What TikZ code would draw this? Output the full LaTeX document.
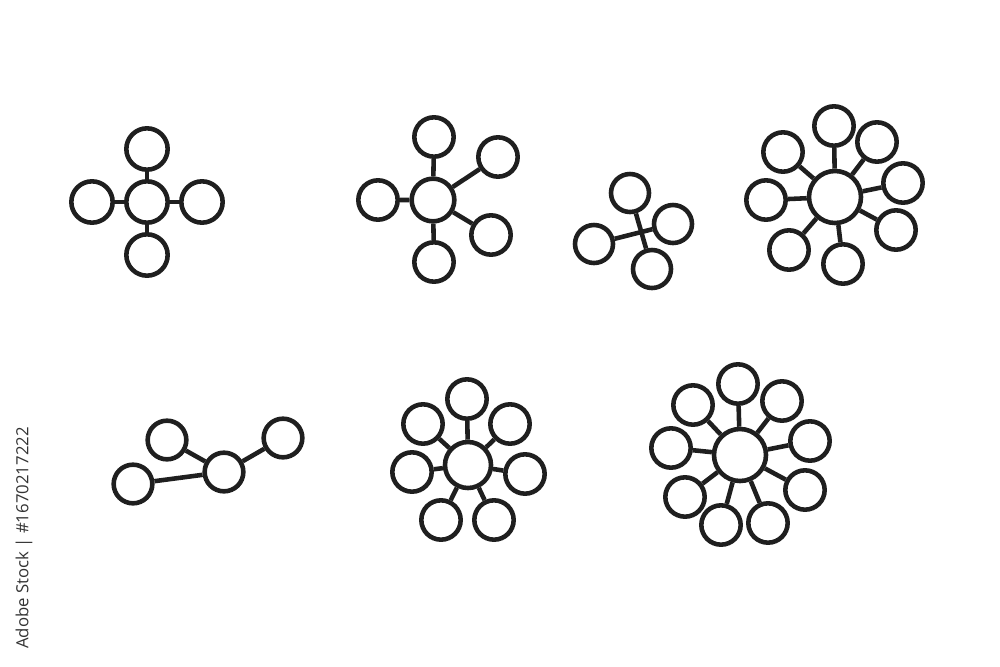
\documentclass[tikz,border=0pt]{standalone}
\usepackage{fontspec}
\newfontfamily\idfont{Open Sans}
\usetikzlibrary{positioning}

\tikzset{
  leaf/.style={circle,draw,line width=3.9pt,minimum size=#1,inner sep=0pt},
  leaf/.default=1.18cm,
  link/.style={line width=3.9pt},
}

\begin{document}
\begin{tikzpicture}[x=0.03cm,y=-0.03cm,color={black!88}]
  \useasboundingbox (0,0) rectangle (1000,667);
  % cross
  \node[leaf=1.24cm] (crossc) at (147,202) {};
  \node[leaf=1.24cm] (crosst) at (147,149) {};
  \node[leaf=1.24cm] (crossb) at (147,255) {};
  \node[leaf=1.24cm] (crossl) at (92,202) {};
  \node[leaf=1.24cm] (crossr) at (202,202) {};
  \draw[link] (crosst) -- (crossc) -- (crossb);
  \draw[link] (crossl) -- (crossc) -- (crossr);
  % five arms
  \node[leaf=1.28cm] (fivec) at (433,200) {};
  \node[leaf] (fivet) at (434,137) {};
  \node[leaf] (fiveur) at (498,157) {};
  \node[leaf] (fivel) at (378,200) {};
  \node[leaf] (fivelr) at (491,235) {};
  \node[leaf] (fiveb) at (434,262) {};
  \draw[link] (fivet) -- (fivec) -- (fiveb);
  \draw[link] (fivel) -- (fivec) -- (fiveur);
  \draw[link] (fivec) -- (fivelr);
  % crossing pairs
  \node[leaf=1.14cm] (pairt) at (630,193) {};
  \node[leaf=1.14cm] (pairr) at (673,224) {};
  \node[leaf=1.14cm] (pairl) at (594,244) {};
  \node[leaf=1.14cm] (pairb) at (652,269) {};
  \draw[link] (pairt) -- (pairb);
  \draw[link] (pairl) -- (pairr);
  % eight arms
  \node[leaf=1.56cm] (eightc) at (835,197) {};
  \node[leaf] (eightt) at (834,126) {};
  \node[leaf] (eightur) at (877,142) {};
  \node[leaf] (eightr) at (903,183) {};
  \node[leaf] (eightlr) at (896,230) {};
  \node[leaf] (eightb) at (843,264) {};
  \node[leaf] (eightll) at (789,250) {};
  \node[leaf] (eightl) at (766,200) {};
  \node[leaf] (eightul) at (783,152) {};
  \draw[link] (eightt) -- (eightc) -- (eightb);
  \draw[link] (eightl) -- (eightc) -- (eightr);
  \draw[link] (eightul) -- (eightc) -- (eightlr);
  \draw[link] (eightll) -- (eightc) -- (eightur);
  % chain
  \node[leaf=1.16cm] (chainc) at (224,472) {};
  \node[leaf=1.16cm] (chainu) at (167,440) {};
  \node[leaf=1.16cm] (chainr) at (283,438) {};
  \node[leaf=1.16cm] (chainl) at (133,484) {};
  \draw[link] (chainu) -- (chainc) -- (chainr);
  \draw[link] (chainl) -- (chainc);
  % seven arms
  \node[leaf=1.38cm] (sevenc) at (468,465) {};
  \node[leaf] (sevent) at (467,399) {};
  \node[leaf] (sevenur) at (510,424) {};
  \node[leaf] (sevenr) at (525,474) {};
  \node[leaf] (sevenlr) at (494,520) {};
  \node[leaf] (sevenll) at (441,520) {};
  \node[leaf] (sevenl) at (412,472) {};
  \node[leaf] (sevenul) at (423,424) {};
  \draw[link] (sevent) -- (sevenc) -- (sevenlr);
  \draw[link] (sevenl) -- (sevenc) -- (sevenr);
  \draw[link] (sevenul) -- (sevenc) -- (sevenur);
  \draw[link] (sevenc) -- (sevenll);
  % nine arms
  \node[leaf=1.56cm] (ninec) at (740,455) {};
  \node[leaf] (ninet) at (738,384) {};
  \node[leaf] (nineur) at (782,401) {};
  \node[leaf] (niner) at (810,441) {};
  \node[leaf] (ninelr) at (805,490) {};
  \node[leaf] (ninebr) at (768,523) {};
  \node[leaf] (ninebl) at (721,525) {};
  \node[leaf] (ninell) at (685,497) {};
  \node[leaf] (ninel) at (671,448) {};
  \node[leaf] (nineul) at (693,405) {};
  \draw[link] (ninet) -- (ninec) -- (ninebr);
  \draw[link] (ninel) -- (ninec) -- (niner);
  \draw[link] (nineul) -- (ninec) -- (ninelr);
  \draw[link] (ninell) -- (ninec) -- (nineur);
  \draw[link] (ninec) -- (ninebl);
  % stock id
  \node[rotate=90,text=black!80,font=\idfont\fontsize{14.3}{16}\selectfont] (stockid) at (24,538) {Adobe Stock | \#1670217222};
\end{tikzpicture}
\end{document}
